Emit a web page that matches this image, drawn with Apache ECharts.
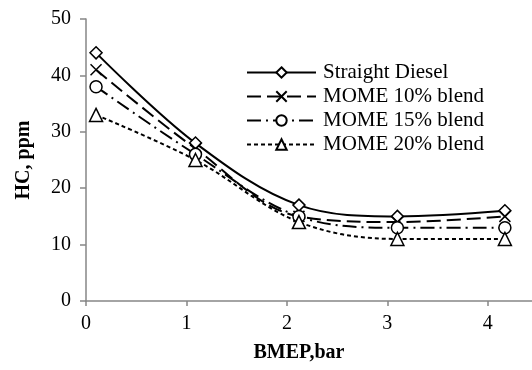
<!DOCTYPE html>
<html>
<head>
<meta charset="utf-8">
<script src="https://cdn.jsdelivr.net/npm/echarts@6/dist/echarts.min.js"></script>
<style>
  html, body { margin: 0; padding: 0; background: #fff; }
  #chart { width: 532px; height: 370px; }
</style>
</head>
<body>
<div id="chart"></div>
<script>
const bmep = [0.1, 1.09, 2.12, 3.1, 4.17];
const straightDiesel = [44, 28, 17, 15, 16];
const mome10 = [41, 27, 15, 14, 15];
const mome15 = [38, 26, 15, 13, 13];
const mome20 = [33, 25, 14, 11, 11];
const xTicks = [0, 1, 2, 3, 4];
const yTicks = [0, 10, 20, 30, 40, 50];

const font = '"Liberation Serif", "Times New Roman", serif';
const crossPath = 'path://M0,0L10,10M10,0L0,10';

const pairs = (ys) => bmep.map((x, i) => [x, ys[i]]);

function makeSeries(name, ys, symbol, size, dash) {
  return {
    name: name,
    type: 'line',
    data: pairs(ys),
    smooth: 0.35,
    symbol: symbol,
    symbolSize: size,
    showAllSymbol: true,
    lineStyle: { color: '#000', width: 2, type: dash },
    itemStyle: { color: '#fff', borderColor: '#000', borderWidth: 1.5 },
    emphasis: { disabled: true }
  };
}

const chart = echarts.init(document.getElementById('chart'));

chart.setOption({
  animation: false,
  grid: { left: 86, right: 0, top: 19, bottom: 69 },
  legend: {
    orient: 'vertical',
    left: 241,
    top: 57,
    itemWidth: 69,
    itemHeight: 13,
    itemGap: 3,
    textStyle: { fontFamily: font, fontSize: 21, color: '#000', padding: [0, 0, 0, 2] },
    data: ['Straight Diesel', 'MOME 10% blend', 'MOME 15% blend', 'MOME 20% blend']
  },
  xAxis: {
    type: 'value',
    min: 0,
    max: 4.44,
    name: 'BMEP,bar',
    nameLocation: 'middle',
    nameGap: 42,
    nameTextStyle: { fontFamily: font, fontSize: 20, fontWeight: 'bold', color: '#000', padding: [0, 20, 0, 0] },
    axisLine: { lineStyle: { color: '#868686', width: 1.5 } },
    axisTick: { show: true, customValues: xTicks, length: 5, lineStyle: { color: '#868686', width: 1.5 } },
    axisLabel: { customValues: xTicks, fontFamily: font, fontSize: 20, color: '#000', margin: 13 },
    splitLine: { show: false }
  },
  yAxis: {
    type: 'value',
    min: 0,
    max: 50,
    interval: 10,
    name: 'HC, ppm',
    nameLocation: 'middle',
    nameGap: 52,
    nameTextStyle: { fontFamily: font, fontSize: 20, fontWeight: 'bold', color: '#000' },
    axisLine: { show: true, lineStyle: { color: '#868686', width: 1.5 } },
    axisTick: { show: true, inside: false, length: 6, lineStyle: { color: '#868686', width: 1.5 } },
    axisLabel: { customValues: yTicks, fontFamily: font, fontSize: 20, color: '#000', margin: 15 },
    splitLine: { show: false }
  },
  series: [
    makeSeries('Straight Diesel', straightDiesel, 'diamond', 12, 'solid'),
    makeSeries('MOME 10% blend', mome10, crossPath, 11, [14, 6]),
    makeSeries('MOME 15% blend', mome15, 'circle', 12, [14, 5, 2, 5]),
    makeSeries('MOME 20% blend', mome20, 'triangle', 13, [4, 3])
  ]
});
</script>
</body>
</html>
